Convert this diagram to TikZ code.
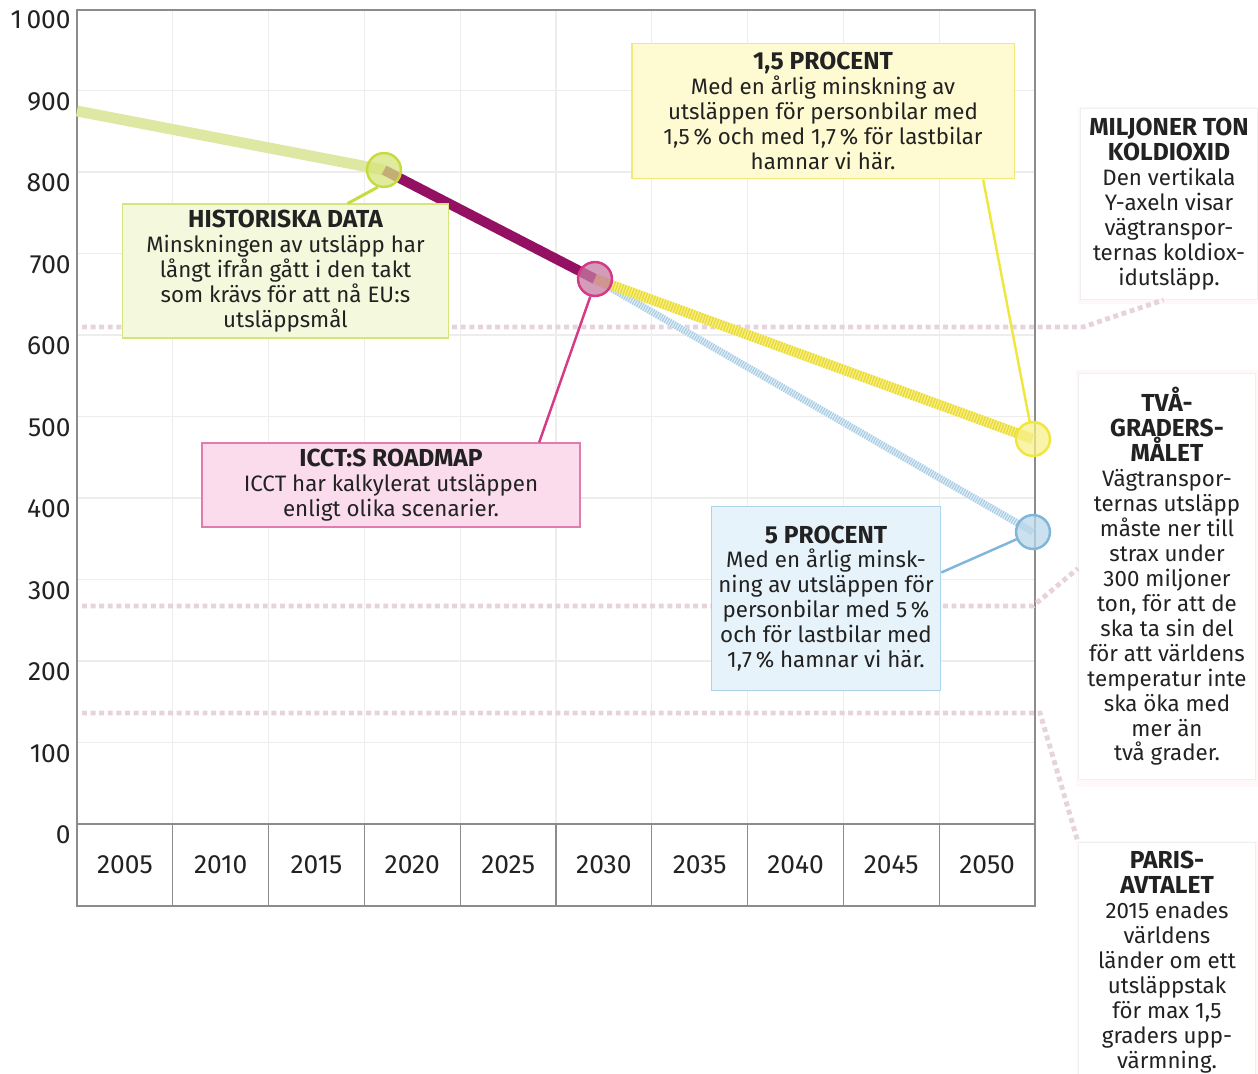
\documentclass[tikz,border=0pt]{standalone}
\usepackage{fontspec}
\setmainfont{Fira Sans}
\usetikzlibrary{positioning,calc,shadows}

\definecolor{ink}{HTML}{222222}
\definecolor{framegray}{HTML}{8C8C8C}
\definecolor{gridgray}{HTML}{EDEDED}
\definecolor{goalpink}{HTML}{E6D3DD}
\definecolor{histline}{HTML}{DEE8A2}
\definecolor{histdot}{HTML}{C6DC3E}
\definecolor{histfill}{HTML}{F4F8DC}
\definecolor{histedge}{HTML}{D6E47C}
\definecolor{icctline}{HTML}{931062}
\definecolor{icctdot}{HTML}{D43A86}
\definecolor{icctfill}{HTML}{FBDCEC}
\definecolor{icctedge}{HTML}{E27BB0}
\definecolor{yelbase}{HTML}{F8F08C}
\definecolor{yelhatch}{HTML}{E9DA34}
\definecolor{yeldot}{HTML}{F0E640}
\definecolor{yelfill}{HTML}{FEFAD2}
\definecolor{yeledge}{HTML}{F1E97A}
\definecolor{blubase}{HTML}{E6F1F9}
\definecolor{bluhatch}{HTML}{A9CDE4}
\definecolor{bludot}{HTML}{7FB6DA}
\definecolor{blufill}{HTML}{E7F3FA}
\definecolor{bluedge}{HTML}{ADD3EA}

\newcommand\bodyfont{\fontsize{12.7}{14.2}\selectfont}
\newcommand\axisfont{\fontsize{15}{17}\selectfont}
\newcommand\hd[1]{{\fontsize{14}{14.2}\selectfont\bfseries #1}}

\tikzset{
  box/.style={draw, line width=0.85pt, align=center, inner sep=0pt, text=ink, font=\bodyfont},
  note/.style={box, fill=white, draw=black!6, line width=0.4pt,
    drop shadow={shadow xshift=0pt, shadow yshift=-1pt, shadow scale=1.03, fill=pink!60, opacity=.18}},
  dot/.style={circle, minimum size=19.3pt, inner sep=0pt, line width=1.4pt, fill opacity=.75},
  conn/.style={line width=1.4pt},
  goal/.style={draw=goalpink, line width=2.8pt, dash pattern=on 2.8pt off 2.1pt},
  ylab/.style={anchor=east, inner sep=0pt, text=ink, font=\axisfont},
  year/.style={text=ink, font=\axisfont},
}

\begin{document}
\begin{tikzpicture}[x=0.02cm, y=-0.02cm]
  \useasboundingbox (0,0) rectangle (1258,1073);

  % Raster
  \draw[gridgray, line width=0.6pt]
    (77,742.5) -- (1035,742.5)  (77,661) -- (1035,661)  (77,579.5) -- (1035,579.5)
    (77,498) -- (1035,498)  (77,416.5) -- (1035,416.5)  (77,335) -- (1035,335)
    (77,253.5) -- (1035,253.5)  (77,172) -- (1035,172)  (77,90.5) -- (1035,90.5)
    (172.8,10) -- (172.8,824)  (268.6,10) -- (268.6,824)  (364.4,10) -- (364.4,824)
    (460.2,10) -- (460.2,824)  (556,10) -- (556,824)  (651.8,10) -- (651.8,824)
    (747.6,10) -- (747.6,824)  (843.4,10) -- (843.4,824)  (939.2,10) -- (939.2,824);
  \draw[framegray, line width=0.7pt]
    (77,10) rectangle (1035,906)  (77,824) -- (1035,824)
    (172.8,824) -- (172.8,906)  (268.6,824) -- (268.6,906)  (364.4,824) -- (364.4,906)
    (460.2,824) -- (460.2,906)  (556,824) -- (556,906)  (651.8,824) -- (651.8,906)
    (747.6,824) -- (747.6,906)  (843.4,824) -- (843.4,906)  (939.2,824) -- (939.2,906);

  % Y-axel
  \node[ylab] (y1000) at (71,20)    {1\,000};
  \node[ylab] (y900)  at (71,101.5) {900};
  \node[ylab] (y800)  at (71,183)   {800};
  \node[ylab] (y700)  at (71,264.5) {700};
  \node[ylab] (y600)  at (71,346)   {600};
  \node[ylab] (y500)  at (71,427.5) {500};
  \node[ylab] (y400)  at (71,509)   {400};
  \node[ylab] (y300)  at (71,590.5) {300};
  \node[ylab] (y200)  at (71,672)   {200};
  \node[ylab] (y100)  at (71,753.5) {100};
  \node[ylab] (y0)    at (71,835)   {0};

  % Årtal
  \node[year] (j2005) at (124.9,865) {2005};
  \node[year] (j2010) at (220.7,865) {2010};
  \node[year] (j2015) at (316.5,865) {2015};
  \node[year] (j2020) at (412.3,865) {2020};
  \node[year] (j2025) at (508.1,865) {2025};
  \node[year] (j2030) at (603.9,865) {2030};
  \node[year] (j2035) at (699.7,865) {2035};
  \node[year] (j2040) at (795.5,865) {2040};
  \node[year] (j2045) at (891.3,865) {2045};
  \node[year] (j2050) at (987.1,865) {2050};

  % Punkter
  \coordinate (c2005) at (77,111);
  \coordinate (c2020) at (384,170);
  \coordinate (c2030) at (595,279);
  \coordinate (c15)   at (1033,439);
  \coordinate (c5)    at (1033,532);

  % Rutor till höger
  \node[note, minimum width=100.9pt, minimum height=108.8pt] (mil) at (1169,204)
    {\hd{MILJONER TON}\\\hd{KOLDIOXID}\\Den vertikala\\Y-axeln visar\\vägtranspor-\\ternas koldiox-\\idutsläpp.};
  \node[note, minimum width=100.9pt, minimum height=230.7pt] (tva) at (1167,576.5)
    {\hd{TVÅ-}\\\hd{GRADERS-}\\\hd{MÅLET}\\Vägtranspor-\\ternas utsläpp\\måste ner till\\strax under\\300 miljoner\\ton, för att de\\ska ta sin del\\för att världens\\temperatur inte\\ska öka med\\mer än\\två grader.};
  \node[note, minimum width=100.9pt, minimum height=136pt] (paris) at (1167,962)
    {\hd{PARIS-}\\\hd{AVTALET}\\2015 enades\\världens\\länder om ett\\utsläppstak\\för max 1,5\\graders upp-\\värmning.};

  % Mål-linjer
  \coordinate (g610) at (82,327);
  \coordinate (g268) at (82,606);
  \coordinate (g136) at (82,713);
  \draw[goal] (g610) -- ++(1001,0) -- ($(mil.south west)!0.47!(mil.south east)$);
  \draw[goal] (g268) -- ++(951,0) -- ($(tva.north west)!0.48!(tva.south west)$);
  \draw[goal] (g136) -- ++(958,0) -- (paris.north west);

  % Kurvor
  \draw[histline, line width=6.2pt] (c2005) -- (c2020);
  \draw[icctline, line width=5.7pt] (c2020) -- (c2030);
  \draw[blubase, line width=4pt] (c2030) -- (c5);
  \draw[bluhatch, line width=4pt, dash pattern=on 0.7pt off 0.7pt] (c2030) -- (c5);
  \draw[yelbase, line width=5.7pt] (c2030) -- (c15);
  \draw[yelhatch, line width=5.7pt, dash pattern=on 0.8pt off 0.8pt] (c2030) -- (c15);

  \node[dot, draw=histdot, fill=histedge] (p2020) at (c2020) {};
  \node[dot, draw=icctdot, fill=icctedge!70!gray] (p2030) at (c2030) {};
  \node[dot, draw=yeldot, fill=yelbase] (p15) at (c15) {};
  \node[dot, draw=bludot, fill=bluhatch!80!white] (p5) at (c5) {};

  % Förklaringar
  \node[box, fill=histfill, draw=histedge, minimum width=185.4pt, minimum height=76pt] (hist) at (285.5,271)
    {\hd{HISTORISKA DATA}\\Minskningen av utsläpp har\\långt ifrån gått i den takt\\som krävs för att nå EU:s\\utsläppsmål};
  \node[box, fill=icctfill, draw=icctedge, minimum width=215.4pt, minimum height=47.6pt] (icct) at (391,485)
    {\hd{ICCT:S ROADMAP}\\ICCT har kalkylerat utsläppen\\enligt olika scenarier.};
  \node[box, fill=yelfill, draw=yeledge, minimum width=217.7pt, minimum height=77.1pt] (pc15) at (823,111)
    {\hd{1,5 PROCENT}\\Med en årlig minskning av\\utsläppen för personbilar med\\1,5\,\% och med 1,7\,\% för lastbilar\\hamnar vi här.};
  \node[box, fill=blufill, draw=bluedge, minimum width=130.4pt, minimum height=104.9pt] (pc5) at (826,598.5)
    {\hd{5 PROCENT}\\Med en årlig minsk-\\ning av utsläppen för\\personbilar med 5\,\%\\och för lastbilar med\\1,7\,\% hamnar vi här.};

  % Linjer till rutorna
  \draw[conn, histdot, line width=1.7pt] (p2020.250) -- ($(hist.north west)!0.69!(hist.north east)$);
  \draw[conn, icctdot] (p2030.255) -- ($(icct.north west)!0.89!(icct.north east)$);
  \draw[conn, yeldot] ($(pc15.south west)!0.917!(pc15.south east)$) -- (p15);
  \draw[conn, bludot] ($(pc5.north east)!0.36!(pc5.south east)$) -- (p5);
\end{tikzpicture}
\end{document}
